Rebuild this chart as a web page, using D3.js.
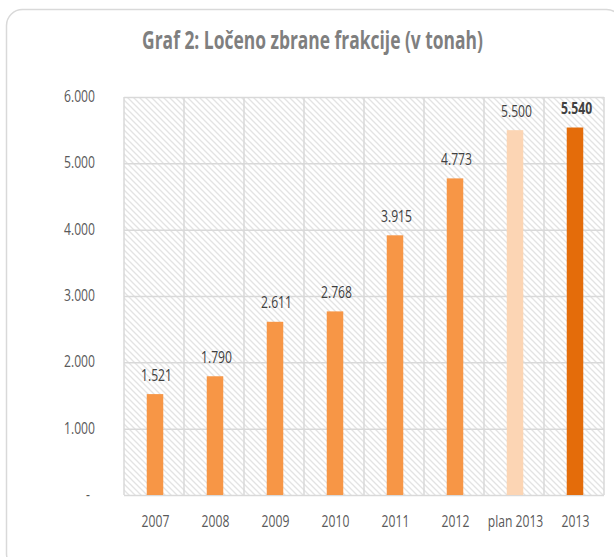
<!DOCTYPE html>
<html><head><meta charset="utf-8">
<script src="https://cdn.jsdelivr.net/npm/d3@7"></script>
<style>
html,body{margin:0;padding:0;background:#fff;}
text{font-family:"Open Sans","Liberation Sans",sans-serif;}
</style></head>
<body>
<svg id="c" width="614" height="557"></svg>
<script>
const categories = ["2007","2008","2009","2010","2011","2012","plan 2013","2013"];
const values = [1521,1790,2611,2768,3915,4773,5500,5540];
const barColors = ["#f79646","#f79646","#f79646","#f79646","#f79646","#f79646","#fcd5b4","#e46c0a"];
const boldLabel = [false,false,false,false,false,false,false,true];
const yTicks = [0,1000,2000,3000,4000,5000,6000];
const title = "Graf 2: Ločeno zbrane frakcije (v tonah)";

const svg = d3.select("#c");
const fmt = v => v === 0 ? "-" : d3.format(",")(v).replace(/,/g,".");

// measure horizontal squeeze for small text
const FS = 15.5;
const probe = svg.append("text").attr("font-size",FS).text("6.000");
const SX = 31 / probe.node().getComputedTextLength();
probe.remove();
const tr = (x,y) => `translate(${x},${y}) scale(${SX},1)`;

// pattern
const defs = svg.append("defs");
const pat = defs.append("pattern").attr("id","hatch").attr("patternUnits","userSpaceOnUse")
  .attr("width",6).attr("height",6);
pat.append("rect").attr("width",6).attr("height",6).attr("fill","#fff");
pat.append("path").attr("d","M-1,-1 L7,7 M-1,5 L1,7 M5,-1 L7,1")
  .attr("stroke","#e3e3e3").attr("stroke-width",1.3);

// outer border
svg.append("rect").attr("x",6.5).attr("y",9.5).attr("width",616).attr("height",560)
  .attr("rx",16).attr("fill","none").attr("stroke","#d9d9d9").attr("stroke-width",1.5);

const x = d3.scaleBand().domain(categories).range([124,604]).paddingInner(0).paddingOuter(0);
const y = d3.scaleLinear().domain([0,6000]).range([495,97]);

// plot background
svg.append("rect").attr("x",124).attr("y",y(6000)).attr("width",480).attr("height",y(0)-y(6000))
  .attr("fill","url(#hatch)");

// horizontal gridlines
const gy = svg.append("g").attr("transform","translate(124,0)")
  .call(d3.axisLeft(y).tickValues(yTicks).tickSize(-480).tickFormat(""));
gy.select(".domain").remove();
gy.selectAll("line").attr("stroke","#d9d9d9").attr("stroke-width",1.5);

// vertical gridlines at band boundaries
const bounds = categories.map(c => x(c)).concat([x(categories[categories.length-1]) + x.bandwidth()]);
svg.append("g").selectAll("line").data(bounds).join("line")
  .attr("x1",d=>d).attr("x2",d=>d).attr("y1",y(6000)).attr("y2",y(0))
  .attr("stroke","#d9d9d9").attr("stroke-width",1.5);

// y tick labels
svg.append("g").selectAll("text").data(yTicks).join("text")
  .attr("transform",d => tr(d===0 ? 90 : 95, y(d)+5))
  .attr("text-anchor","end").attr("fill","#595959").attr("font-size",FS)
  .text(fmt);

// bars
const bw = 16.5;
svg.append("g").selectAll("rect").data(values).join("rect")
  .attr("x",(d,i)=>x(categories[i])+x.bandwidth()/2-bw/2+1)
  .attr("y",d=>y(d)).attr("width",bw).attr("height",d=>y(0)-y(d))
  .attr("fill",(d,i)=>barColors[i]);

// value labels
svg.append("g").selectAll("text").data(values).join("text")
  .attr("transform",(d,i)=>tr(x(categories[i])+x.bandwidth()/2+2.5, y(d)-13.5))
  .attr("text-anchor","middle").attr("font-size",FS)
  .attr("font-weight",(d,i)=>boldLabel[i]?"bold":"normal")
  .attr("fill","#404040").text(fmt);

// x labels
svg.append("g").selectAll("text").data(categories).join("text")
  .attr("transform",d=>tr(x(d)+x.bandwidth()/2+1.5, 527))
  .attr("text-anchor","middle").attr("font-size",FS).attr("fill","#595959").text(d=>d);

// title
const TFS = 25;
const t = svg.append("text").attr("text-anchor","middle")
  .attr("font-size",TFS).attr("font-weight","bold").attr("fill","#7f7f7f").text(title);
const tw = t.node().getComputedTextLength();
t.attr("transform",`translate(312.5,49) scale(${341/tw},1)`);
</script>
</body></html>
